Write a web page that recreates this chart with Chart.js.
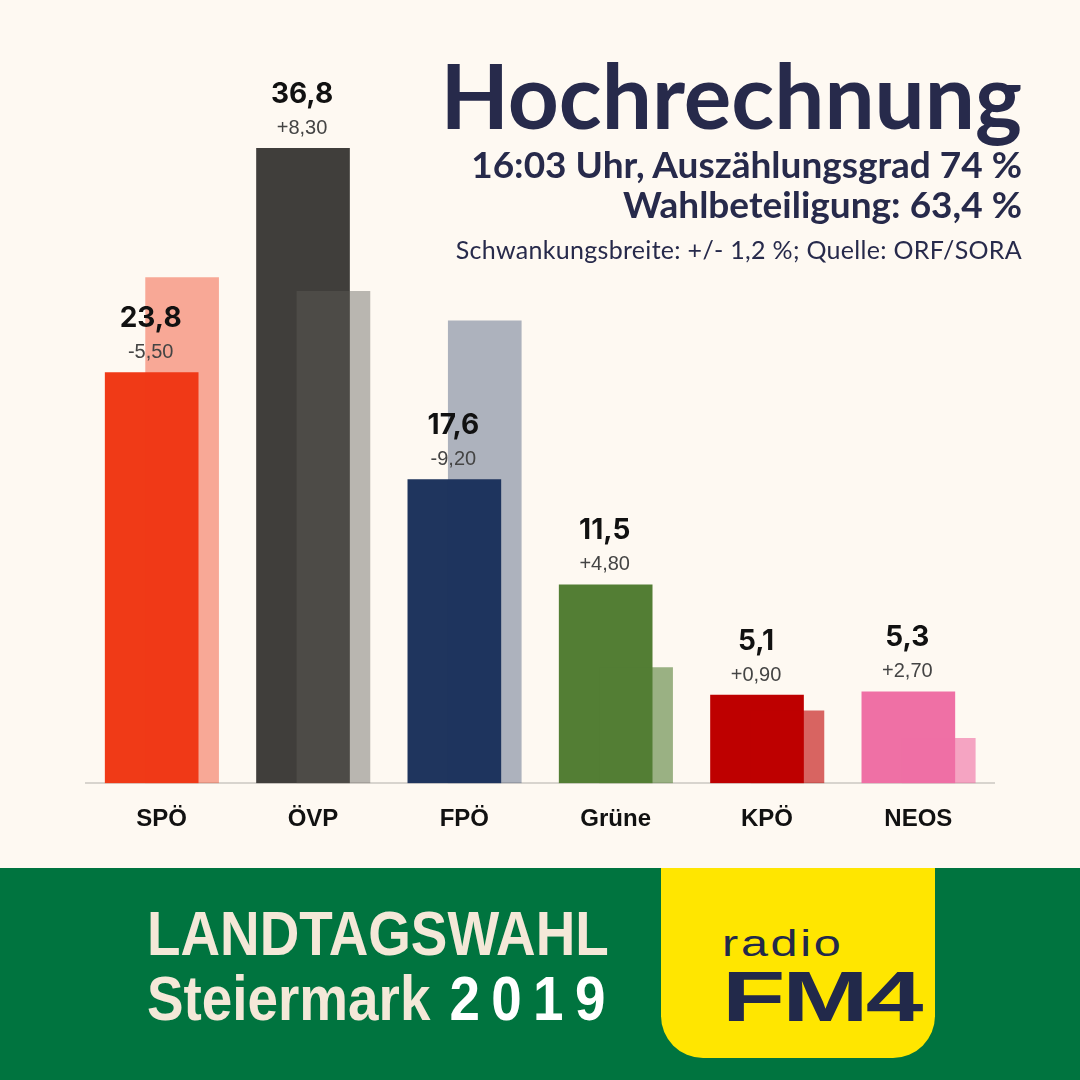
<!DOCTYPE html>
<html>
<head>
<meta charset="utf-8">
<script src="https://cdn.jsdelivr.net/npm/chart.js@4.4.1/dist/chart.umd.min.js"></script>
<style>
  html, body { margin: 0; padding: 0; }
  body { width: 1080px; height: 1080px; background: #fef9f2; position: relative; overflow: hidden; }
  #chart-wrap { position: absolute; left: 0; top: 0; width: 1080px; height: 860px; }
  .title { position: absolute; right: 58px; color: #272a4b; font-family: Lato, sans-serif; font-weight: 700; white-space: nowrap; text-align: right; }
  #t1 { top: 42px; font-size: 89px; line-height: 106px; }
  #t2 { top: 143px; font-size: 37px; line-height: 42px; }
  #t3 { top: 183px; font-size: 37px; line-height: 42px; }
  #t4 { top: 235px; font-size: 25px; line-height: 28px; font-weight: 400; letter-spacing: 0.3px; }
  #band { position: absolute; left: 0; top: 868px; width: 1080px; height: 212px; background: #00743f; }
  .band-text { position: absolute; left: 147px; color: #f4e8d8; font-family: "Liberation Sans", Arial, sans-serif; font-weight: 700; font-size: 63px; line-height: 70px; white-space: nowrap; transform: scaleX(0.87); transform-origin: left top; }
  #b1 { top: 898px; }
  #b2 { top: 963px; }
  #b2 span { color: #ffffff; font-weight: 700; letter-spacing: 13px; margin-left: 22px; }
  #logo { position: absolute; left: 661px; top: 868px; width: 274px; height: 190px; background: #ffe600; border-radius: 0 0 42px 42px; }
  #radio { position: absolute; left: 61px; top: 56px; font-family: "Liberation Sans", Arial, sans-serif; font-size: 36px; line-height: 40px; letter-spacing: 2px; color: #22294a; transform: scaleX(1.35); transform-origin: left top; }
  #fm4 { position: absolute; left: 61px; top: 91px; font-family: "Liberation Sans", Arial, sans-serif; font-weight: 700; font-size: 70px; line-height: 76px; color: #22294a; transform: scaleX(1.48); transform-origin: left top; letter-spacing: -2px; }
</style>
</head>
<body>
<div id="chart-wrap"><canvas id="votes-chart"></canvas></div>

<div class="title" id="t1">Hochrechnung</div>
<div class="title" id="t2">16:03 Uhr, Auszählungsgrad 74 %</div>
<div class="title" id="t3">Wahlbeteiligung: 63,4 %</div>
<div class="title" id="t4">Schwankungsbreite: +/- 1,2 %; Quelle: ORF/SORA</div>

<div id="band"></div>
<div class="band-text" id="b1">LANDTAGSWAHL</div>
<div class="band-text" id="b2">Steiermark<span>2019</span></div>
<div id="logo">
  <div id="radio">radio</div>
  <div id="fm4">FM4</div>
</div>

<script>
// Steiermark 2019, Hochrechnung vs. Landtagswahl 2015
const parties = ['SPÖ', 'ÖVP', 'FPÖ', 'Grüne', 'KPÖ', 'NEOS'];
const results2019 = [23.8, 36.8, 17.6, 11.5, 5.1, 5.3];
const results2015 = [29.3, 28.5, 26.8, 6.7, 4.2, 2.6];
const changes = [-5.5, 8.3, -9.2, 4.8, 0.9, 2.7];

const partyColors = ['rgb(240, 58, 23)', 'rgb(64, 62, 59)', 'rgb(31, 53, 94)', 'rgb(83, 126, 52)', 'rgb(190, 0, 0)', 'rgb(239, 112, 165)'];
const oldColors = ['rgba(240, 58, 23, .42)', 'rgba(94, 92, 88, .43)', 'rgba(31, 53, 94, .36)', 'rgba(83, 126, 52, .59)', 'rgba(190, 0, 0, .6)', 'rgba(239, 112, 165, .62)'];

function formatNum(v, digits) {
  return v.toFixed(digits).replace('.', ',');
}

// value + change above every 2019 bar
const valueLabels = {
  id: 'valueLabels',
  afterDatasetsDraw(chart) {
    const ctx = chart.ctx;
    const meta = chart.getDatasetMeta(1);
    ctx.save();
    ctx.textAlign = 'center';
    ctx.textBaseline = 'middle';
    meta.data.forEach((bar, i) => {
      ctx.fillStyle = '#111111';
      ctx.font = 'bold 28px Inter, sans-serif';
      ctx.fillText(formatNum(results2019[i], 1), bar.x - 1, bar.y - 54);
      ctx.fillStyle = '#444444';
      ctx.font = '20px "Liberation Sans", Arial, sans-serif';
      let sign = changes[i] > 0 ? '+' : '';
      ctx.fillText(sign + formatNum(changes[i], 2), bar.x - 1, bar.y - 20);
    });
    ctx.restore();
  }
};

let ctx = document.getElementById('votes-chart');
new Chart(ctx, {
  type: 'bar',
  data: {
    labels: parties,
    datasets: [{
      label: '2015',
      xAxisID: 'xOld',
      data: results2015.map((v, i) => ({ x: i, y: v })),
      backgroundColor: oldColors,
      barThickness: 73,
      grouped: false,
    }, {
      label: '2019',
      xAxisID: 'xNew',
      data: results2019.map((v, i) => ({ x: i, y: v })),
      backgroundColor: partyColors,
      barThickness: 93,
      grouped: false,
    }]
  },
  options: {
    responsive: true,
    maintainAspectRatio: false,
    animation: false,
    layout: {
      padding: { left: 86, right: 86, top: 93, bottom: 4 }
    },
    plugins: {
      legend: { display: false },
      tooltip: { enabled: false }
    },
    scales: {
      x: {
        type: 'category',
        offset: true,
        grid: { display: false, drawTicks: false },
        border: { display: true, color: '#d8d4ce', width: 2 },
        ticks: {
          color: '#111111',
          padding: 22,
          font: { size: 24, weight: 'bold', family: '"Liberation Sans", Arial, sans-serif' }
        }
      },
      xNew: {
        type: 'linear',
        display: false,
        offset: false,
        min: -0.434,
        max: 5.566
      },
      xOld: {
        type: 'linear',
        display: false,
        offset: false,
        min: -0.635,
        max: 5.365
      },
      y: {
        display: false,
        min: 0,
        max: 40
      }
    }
  },
  plugins: [valueLabels]
});
</script>
</body>
</html>
